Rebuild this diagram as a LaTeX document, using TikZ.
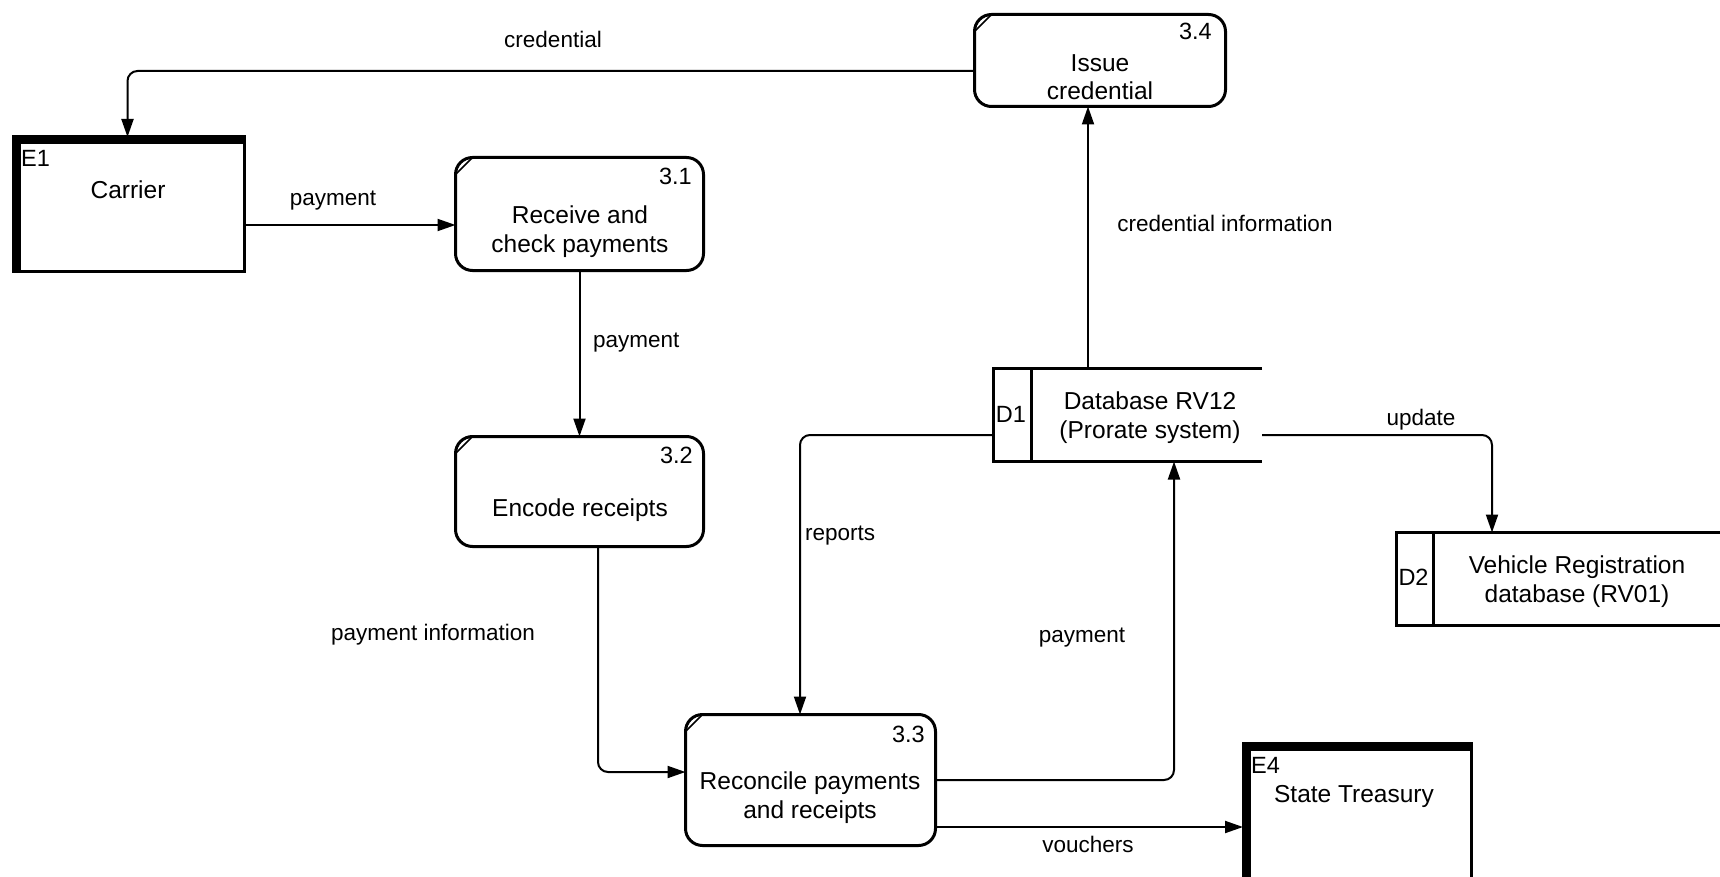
\documentclass[tikz,border=0pt]{standalone}
\usepackage{fontspec}
\setmainfont{Liberation Sans}
\usetikzlibrary{arrows.meta}
\newcommand\boxfont{\fontsize{24.5}{28.5}\selectfont}
\newcommand\labfont{\fontsize{22.5}{27}\selectfont}
\newcommand\idfont{\fontsize{23.5}{27}\selectfont}
\begin{document}
\begin{tikzpicture}[x=1pt,y=-1pt,
  proc/.style={draw, line width=3pt, rounded corners=17pt, inner sep=0pt, outer sep=0pt},
  entity/.style={draw, line width=3pt, inner sep=0pt, outer sep=0pt},
  store/.style={inner sep=0pt, outer sep=0pt},
  storeline/.style={line width=3pt},
  thickband/.style={line width=9pt},
  chord/.style={line width=1.5pt},
  flow/.style={line width=2pt, rounded corners=10pt, -{Triangle[length=18pt,width=12pt]}},
  boxtext/.style={font=\boxfont, inner sep=0pt, align=center, anchor=base},
  numtext/.style={font=\idfont, inner sep=0pt},
  flowlabel/.style={font=\labfont, inner sep=0pt, anchor=base}]
\useasboundingbox (0,0) rectangle (1720,877);
\clip (0,0) rectangle (1720,877);

% external entities
\node[entity, minimum width=231pt, minimum height=134.5pt] (E1) at (128.5,204.25) {};
\draw[thickband] ([xshift=3pt]E1.south west) |- ([yshift=-3pt]E1.north east);
\node[entity, minimum width=228pt, minimum height=167pt] (E4) at (1357,826.5) {};
\draw[thickband] ([xshift=3pt]E4.south west) |- ([yshift=-3pt]E4.north east);

% processes
\node[proc, minimum width=248pt, minimum height=113pt] (p31) at (579.5,214) {};
\node[proc, minimum width=248pt, minimum height=110pt] (p32) at (579.5,491.5) {};
\node[proc, minimum width=250pt, minimum height=131pt] (p33) at (810.5,780) {};
\node[proc, minimum width=251pt, minimum height=92pt] (p34) at (1100,60.5) {};
\foreach \n in {p31,p32,p33,p34}
  \draw[chord] ([yshift=-17pt]\n.north west) -- ([xshift=17pt]\n.north west);

% data stores (open on the right)
\node[store, minimum width=268.5pt, minimum height=93pt] (D1) at (1127.75,415) {};
\draw[storeline] (D1.north east) -- (D1.north west) -- (D1.south west) -- (D1.south east);
\draw[storeline] ([xshift=37.5pt]D1.north west) -- ([xshift=37.5pt]D1.south west);
\node[store, minimum width=328.5pt, minimum height=93pt] (D2) at (1560.75,579) {};
\draw[storeline] (D2.north east) -- (D2.north west) -- (D2.south west) -- (D2.south east);
\draw[storeline] ([xshift=36.5pt]D2.north west) -- ([xshift=36.5pt]D2.south west);

% texts inside shapes (two-line texts sit on the baseline of their last line)
\node[numtext, anchor=base west] (E1id) at (21,167) {E1};
\node[boxtext] (E1t) at (128,199) {Carrier};
\node[numtext, anchor=base west] (E4id) at (1251,773) {E4};
\node[boxtext] (E4t) at (1354,802) {State Treasury};
\node[numtext, anchor=base east] (n31) at (692,185) {3.1};
\node[boxtext] (t31) at (580,252) {Receive and\\check payments};
\node[numtext, anchor=base east] (n32) at (693,463) {3.2};
\node[boxtext] (t32) at (580,516) {Encode receipts};
\node[numtext, anchor=base east] (n33) at (925,742) {3.3};
\node[boxtext] (t33) at (810,818) {Reconcile payments\\and receipts};
\node[numtext, anchor=base east] (n34) at (1212,40) {3.4};
\node[boxtext] (t34) at (1100,100) {Issue\\credential};
\node[numtext, anchor=base] (D1id) at (1011,422) {D1};
\node[boxtext] (D1t) at (1150,438) {Database RV12\\(Prorate system)};
\node[numtext, anchor=base] (D2id) at (1413.5,585) {D2};
\node[boxtext] (D2t) at (1577,602) {Vehicle Registration\\database (RV01)};

% data flows
\draw[flow] (E1.east |- 0,225) -- (p31.west |- 0,225);
\draw[flow] (p31.south) -- (p32.north);
\draw[flow] (p32.south -| 598,0) |- (p33.west |- 0,772);
\draw[flow] (D1.west |- 0,435) -| (p33.north -| 800,0);
\draw[flow] (p33.east |- 0,780) -| (D1.south -| 1174,0);
\draw[flow] (p33.east |- 0,827) -- (E4.west |- 0,827);
\draw[flow] (D1.north -| 1088,0) -- (p34.south -| 1088,0);
\draw[flow] (p34.west |- 0,71) -| (E1.north -| 127.5,0);
\draw[flow] (D1.east |- 0,435) -| (D2.north -| 1492,0);

% flow labels
\node[flowlabel] (lcred) at (553,47.5) {credential};
\node[flowlabel] (lpay1) at (333,206) {payment};
\node[flowlabel, anchor=base west] (lpay2) at (593,347) {payment};
\node[flowlabel] (lpinfo) at (433,640) {payment information};
\node[flowlabel, anchor=base west] (lrep) at (805,540) {reports};
\node[flowlabel] (lpay3) at (1082,642) {payment};
\node[flowlabel] (lvouch) at (1088,852) {vouchers};
\node[flowlabel] (lcinfo) at (1225,232) {credential information};
\node[flowlabel] (lupd) at (1421,425) {update};
\end{tikzpicture}
\end{document}
